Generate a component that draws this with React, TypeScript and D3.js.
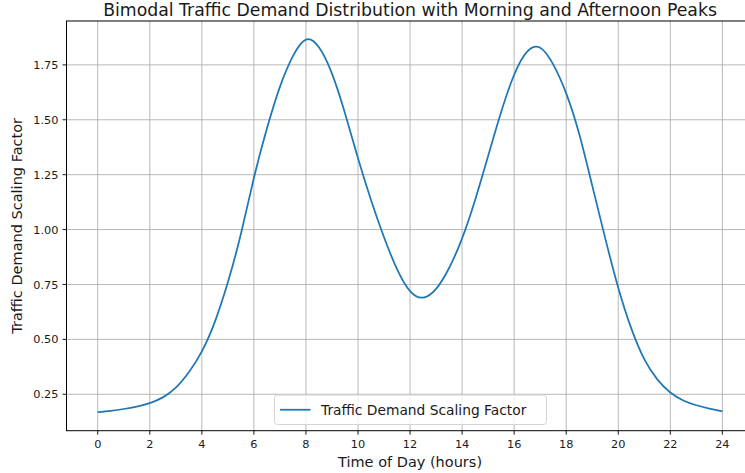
import * as d3 from 'd3';

const hours = [
  0, 0.5, 1, 1.5, 2, 2.5, 3, 3.5, 4, 4.5, 5, 5.5, 6, 6.5, 7, 7.5, 8, 8.5, 9, 9.5, 10, 10.5, 11, 11.5, 12,
  12.5, 13, 13.5, 14, 14.5, 15, 15.5, 16, 16.5, 17, 17.5, 18, 18.5, 19, 19.5, 20, 20.5, 21, 21.5, 22,
  22.5, 23, 23.5, 24,
];
const demand = [
  0.169, 0.175, 0.183, 0.194, 0.21, 0.236, 0.28, 0.35, 0.445, 0.58, 0.76, 0.98, 1.235, 1.46, 1.65,
  1.79, 1.865, 1.83, 1.71, 1.53, 1.325, 1.135, 0.965, 0.82, 0.72, 0.69, 0.73, 0.825, 0.96, 1.135, 1.335,
  1.535, 1.705, 1.81, 1.828, 1.752, 1.62, 1.435, 1.2, 0.96, 0.735, 0.55, 0.41, 0.318, 0.258, 0.222, 0.2,
  0.185, 0.172,
];
const xTicks = [0, 2, 4, 6, 8, 10, 12, 14, 16, 18, 20, 22, 24];
const yTicks = [0.25, 0.5, 0.75, 1.0, 1.25, 1.5, 1.75];

const title = 'Bimodal Traffic Demand Distribution with Morning and Afternoon Peaks';
const xLabel = 'Time of Day (hours)';
const yLabel = 'Traffic Demand Scaling Factor';
const seriesName = 'Traffic Demand Scaling Factor';

const W = 745;
const H = 473;
const margin = { left: 66.5, top: 21, right: 753.6, bottom: 430.7 };
const font = 'DejaVu Sans, sans-serif';
const text = '#1a1a1a';
const grid = '#b0b0b0';
const lineColor = '#1f77b4';

export default function App() {
  const xPad = (24 - 0) * 0.05;
  const x = d3.scaleLinear().domain([0 - xPad, 24 + xPad]).range([margin.left, margin.right]);
  const [lo, hi] = d3.extent(demand) as [number, number];
  const yPad = (hi - lo) * 0.05;
  const y = d3.scaleLinear().domain([lo - yPad, hi + yPad]).range([margin.bottom, margin.top]);

  const pts = hours.map((h, i) => [h, demand[i]] as [number, number]);
  const line = d3
    .line<[number, number]>()
    .x((d) => x(d[0]))
    .y((d) => y(d[1]))
    .curve(d3.curveNatural);

  const cx = (margin.left + margin.right) / 2;
  const cy = (margin.top + margin.bottom) / 2;

  // legend box
  const lgX = 274.5;
  const lgY = 395;
  const lgW = 272;
  const lgH = 29.5;

  return (
    <svg
      width={W}
      height={H}
      style={{ position: 'absolute', left: 0, top: 0, background: '#fff' }}
      fontFamily={font}
    >
      <defs>
        <clipPath id="plot">
          <rect x={margin.left} y={margin.top} width={margin.right - margin.left} height={margin.bottom - margin.top} />
        </clipPath>
      </defs>
      <rect width={W} height={H} fill="#fff" />

      {/* grid */}
      <g stroke={grid} strokeWidth={0.9}>
        {xTicks.map((t) => (
          <line key={`gx${t}`} x1={x(t)} x2={x(t)} y1={margin.top} y2={margin.bottom} />
        ))}
        {yTicks.map((t) => (
          <line key={`gy${t}`} x1={margin.left} x2={margin.right} y1={y(t)} y2={y(t)} />
        ))}
      </g>

      <path
        d={line(pts) ?? ''}
        fill="none"
        stroke={lineColor}
        strokeWidth={1.75}
        clipPath="url(#plot)"
      />

      {/* spines */}
      <rect
        x={margin.left}
        y={margin.top}
        width={margin.right - margin.left}
        height={margin.bottom - margin.top}
        fill="none"
        stroke="#000"
        strokeWidth={1}
      />

      {/* x ticks */}
      <g fill={text} fontSize={11.3} textAnchor="middle">
        {xTicks.map((t) => (
          <g key={`tx${t}`}>
            <line x1={x(t)} x2={x(t)} y1={margin.bottom} y2={margin.bottom + 4} stroke="#000" strokeWidth={0.9} />
            <text x={x(t)} y={margin.bottom + 17}>
              {t}
            </text>
          </g>
        ))}
      </g>

      {/* y ticks */}
      <g fill={text} fontSize={11.3} textAnchor="end">
        {yTicks.map((t) => (
          <g key={`ty${t}`}>
            <line x1={margin.left - 4} x2={margin.left} y1={y(t)} y2={y(t)} stroke="#000" strokeWidth={0.9} />
            <text x={margin.left - 8} y={y(t)} dy="0.36em">
              {t.toFixed(2)}
            </text>
          </g>
        ))}
      </g>

      {/* labels */}
      <text x={cx} y={466.5} textAnchor="middle" fontSize={14.5} fill={text}>
        {xLabel}
      </text>
      <text
        transform={`translate(21.5,${cy}) rotate(-90)`}
        textAnchor="middle"
        fontSize={14.5}
        fill={text}
      >
        {yLabel}
      </text>
      <text x={cx} y={15.5} textAnchor="middle" fontSize={17.3} fill={text}>
        {title}
      </text>

      {/* legend */}
      <g>
        <rect x={lgX} y={lgY} width={lgW} height={lgH} rx={3} fill="#fff" fillOpacity={0.8} stroke="#d0d0d0" strokeWidth={0.9} />
        <line x1={lgX + 5.5} x2={lgX + 36} y1={lgY + lgH / 2} y2={lgY + lgH / 2} stroke={lineColor} strokeWidth={1.75} />
        <text x={lgX + 46.5} y={lgY + lgH / 2} dy="0.36em" fontSize={13.8} fill={text}>
          {seriesName}
        </text>
      </g>
    </svg>
  );
}
